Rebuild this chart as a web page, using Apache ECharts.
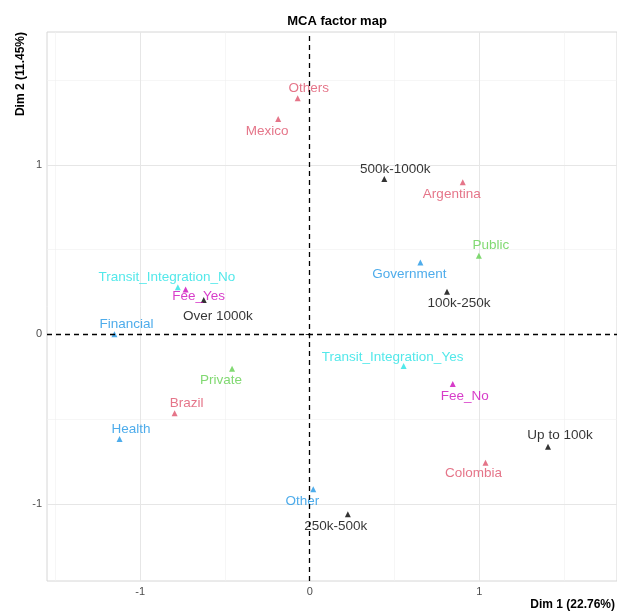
<!DOCTYPE html>
<html>
<head>
<meta charset="utf-8">
<script src="https://cdn.jsdelivr.net/npm/echarts@6/dist/echarts.min.js"></script>
<style>
  html, body { margin: 0; padding: 0; background: #fff; }
  #mca { width: 617px; height: 612px; }
</style>
</head>
<body>
<div id="mca"></div>
<script>
// category coordinates on the two MCA dimensions
const names = ['Others', 'Mexico', '500k-1000k', 'Argentina', 'Transit_Integration_No', 'Fee_Yes',
  'Over 1000k', 'Financial', 'Private', 'Public', 'Government', '100k-250k', 'Transit_Integration_Yes',
  'Fee_No', 'Brazil', 'Health', 'Other', '250k-500k', 'Up to 100k', 'Colombia'];
const dim1 = [-0.071, -0.186, 0.44, 0.903, -0.778, -0.732, -0.625, -1.152, -0.458, 0.998, 0.653, 0.81,
  0.554, 0.844, -0.797, -1.122, 0.021, 0.225, 1.406, 1.037];
const dim2 = [1.392, 1.27, 0.916, 0.897, 0.277, 0.265, 0.202, 0.0, -0.203, 0.464, 0.423, 0.251,
  -0.187, -0.293, -0.466, -0.618, -0.914, -1.062, -0.663, -0.757];
const groups = ['country', 'country', 'income', 'country', 'transit', 'fee', 'income', 'sector',
  'ownership', 'ownership', 'sector', 'income', 'transit', 'fee', 'country', 'sector', 'sector',
  'income', 'income', 'country'];
const xTicks = [-1, 0, 1];
const yTicks = [-1, 0, 1];

// label placement (pixels, from the point) like the repelled labels of the original
const labelOffsets = [[11, -10], [-11, 12], [11, -10], [-11, 12], [-11, -10], [13, 7], [14, 16],
  [12, -10], [-11, 12], [12, -10], [-11, 12], [12, 12], [-11, -9], [12, 12], [12, -10], [11.5, -10],
  [-11, 12], [-12, 12], [12, -11], [-12, 11]];

const groupColors = {
  income: '#000000', country: '#DF536B', ownership: '#61D04F',
  sector: '#2297E6', transit: '#28E2E5', fee: '#CD0BBC'
};

const font = "'Liberation Sans', Arial, sans-serif";

const gridLines = [];
[-1.5, -0.5, 0.5, 1.5].forEach(v => {
  gridLines.push({ xAxis: v, lineStyle: { color: '#f0f0f0', width: 0.6, type: 'solid' } });
  gridLines.push({ yAxis: v, lineStyle: { color: '#f0f0f0', width: 0.6, type: 'solid' } });
});
[-1, 1].forEach(v => {
  gridLines.push({ xAxis: v, lineStyle: { color: '#e6e6e6', width: 1, type: 'solid' } });
  gridLines.push({ yAxis: v, lineStyle: { color: '#e6e6e6', width: 1, type: 'solid' } });
});

const series = [{
  type: 'scatter', data: [], silent: true, z: 1,
  markLine: { silent: true, z: 1, symbol: 'none', label: { show: false }, animation: false, data: gridLines }
}, {
  // origin lines sit on top of points and labels, as in the original
  type: 'scatter', data: [], silent: true, z: 20,
  markLine: {
    silent: true, z: 20, symbol: 'none', label: { show: false }, animation: false,
    lineStyle: { color: '#000', width: 1.3, type: [5, 4] },
    data: [{ xAxis: 0 }, { yAxis: 0 }]
  }
}];

Object.keys(groupColors).forEach(g => {
  const data = [];
  names.forEach((n, i) => {
    if (groups[i] !== g) return;
    data.push({ name: n, value: [dim1[i], dim2[i]], label: { offset: labelOffsets[i] } });
  });
  series.push({
    type: 'scatter', name: g, z: 10,
    symbol: 'triangle', symbolSize: 6,
    itemStyle: { color: groupColors[g] },
    label: {
      show: true, position: 'inside', formatter: '{b}',
      color: groupColors[g], fontFamily: font, fontSize: 13.5
    },
    data: data
  });
});

const chart = echarts.init(document.getElementById('mca'));
chart.setOption({
  animation: false,
  backgroundColor: '#fff',
  title: {
    text: 'MCA factor map', left: 332, top: 10, textAlign: 'center',
    textStyle: { fontFamily: font, fontSize: 13, fontWeight: 'bold', color: '#000' }
  },
  grid: { left: 47, right: 0, top: 32, bottom: 31, show: true, borderColor: '#d6d6d6', borderWidth: 1 },
  xAxis: {
    type: 'value', min: -1.55, max: 1.813,
    axisLine: { show: false },
    splitLine: { show: false },
    axisTick: { show: true, customValues: xTicks, length: 4, lineStyle: { color: '#333' } },
    axisLabel: { customValues: xTicks, color: '#4d4d4d', fontFamily: font, fontSize: 11, margin: 5 }
  },
  yAxis: {
    type: 'value', min: -1.455, max: 1.783,
    axisLine: { show: false },
    splitLine: { show: false },
    axisTick: { show: true, customValues: yTicks, length: 4, lineStyle: { color: '#333' } },
    axisLabel: { customValues: yTicks, color: '#4d4d4d', fontFamily: font, fontSize: 11, margin: 5 }
  },
  graphic: [{
    type: 'text', x: 615, y: 605,
    style: {
      text: 'Dim 1 (22.76%)', align: 'right', verticalAlign: 'middle',
      font: 'bold 12px ' + font, fill: '#000'
    }
  }, {
    type: 'text', x: 21, y: 32, rotation: Math.PI / 2,
    style: {
      text: 'Dim 2 (11.45%)', align: 'right', verticalAlign: 'middle',
      font: 'bold 12px ' + font, fill: '#000'
    }
  }],
  series: series
});
</script>
</body>
</html>
